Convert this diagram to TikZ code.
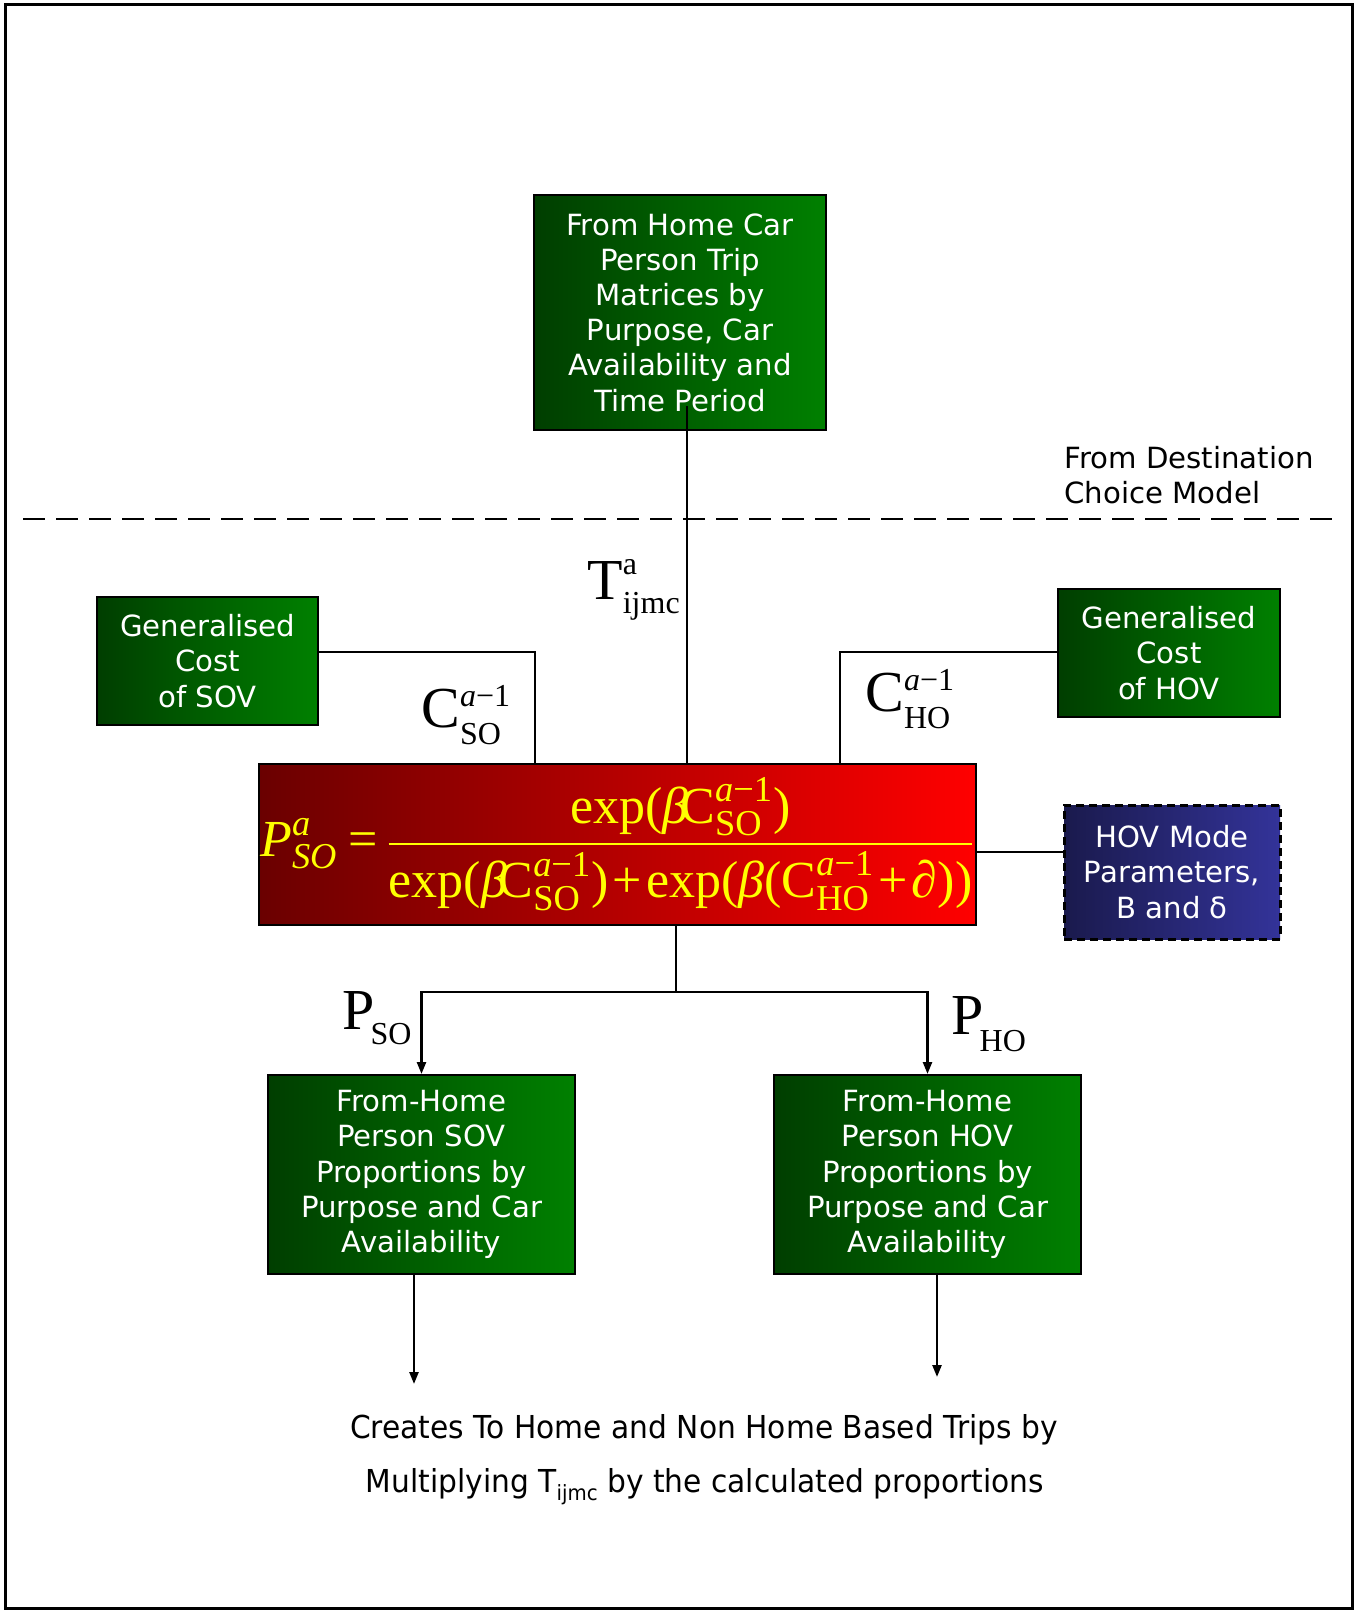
\documentclass[tikz,border=0pt]{standalone}
\usepackage{fontspec}
\usepackage{amsmath}
\usetikzlibrary{arrows.meta,calc}
\newfontfamily\verd{DejaVu Sans}
\newfontfamily\verdc[FakeStretch=0.94]{DejaVu Sans}
\newfontfamily\tnr{Liberation Serif}
\newcommand\rT[1]{\text{\tnr\upshape #1}}
\newcommand\iT[1]{\text{\tnr\itshape #1}}
\newcommand\opsp{\mskip1.5mu}
% label with superscript and subscript: base, sup, sub, raise, lower
\newcommand\supsub[5]{#1\rlap{\raisebox{#4}{\fontsize{16}{16}\selectfont #2}}\raisebox{-#5}{\fontsize{16}{16}\selectfont #3}}
\definecolor{gL}{RGB}{0,62,0}
\definecolor{gR}{RGB}{0,128,0}
\definecolor{rL}{RGB}{106,0,0}
\definecolor{rR}{RGB}{255,0,0}
\definecolor{bL}{RGB}{26,26,77}
\definecolor{bR}{RGB}{51,51,153}
\definecolor{fy}{RGB}{255,255,0}
\tikzset{
  box/.style={draw=black, line width=1pt, left color=gL, right color=gR, text=white, align=center, inner sep=0pt, font=\verd\fontsize{14.6}{17.6}\selectfont},
  redbox/.style={box, left color=rL, right color=rR, text=fy},
  bluebox/.style={box, left color=bL, right color=bR, dash pattern=on 4pt off 2.5pt, line width=1.5pt},
  conn/.style={line width=1.2pt},
  arr/.style={conn, -{Triangle[length=6pt,width=4.5pt]}},
  lbl/.style={font=\tnr\fontsize{29}{30}\selectfont, inner sep=0pt},
  plain/.style={font=\verd\fontsize{14.6}{17.6}\selectfont, inner sep=0pt},
  bottomtxt/.style={font=\verdc\fontsize{15.8}{18}\selectfont, inner sep=0pt}
}
\begin{document}
\begin{tikzpicture}[x=0.5pt,y=-0.5pt]
\useasboundingbox (0,0) rectangle (1354,1611);
\draw[line width=1.5pt] (5,5) rectangle (1352,1608);

% dashed separator
\draw[line width=1.3pt, dash pattern=on 11pt off 5.5pt] (23,519) -- (1341,519);
\node[plain, align=left, anchor=north west] (dest) at (1064,446) {From Destination\\Choice Model};

% boxes
\node[box, minimum width=146pt, minimum height=117.5pt] (top) at (680,312.5)
  {From Home Car\\Person Trip\\Matrices by\\Purpose, Car\\Availability and\\Time Period};
\node[box, minimum width=110.5pt, minimum height=64pt] (gcs) at (207.5,661)
  {Generalised\\Cost\\of SOV};
\node[box, minimum width=111pt, minimum height=64pt] (gch) at (1169,653)
  {Generalised\\Cost\\of HOV};
\node[redbox, minimum width=358.5pt, minimum height=80.5pt, font=\tnr\fontsize{26}{28}\selectfont] (red) at (617.5,844.5)
  {$\displaystyle \iT{P}^{\iT{a}}_{\iT{SO}}\mskip4mu\rT{=}\mskip3mu
   \frac{\rT{exp(}\iT{β}\mkern-3mu\rT{C}^{\iT{a}\rT{−1}}_{\rT{SO}}\rT{)}}
        {\rT{exp(}\iT{β}\mkern-3mu\rT{C}^{\iT{a}\rT{−1}}_{\rT{SO}}\rT{)}\opsp\rT{+}\opsp\rT{exp(}\iT{β}\rT{(C}^{\iT{a}\rT{−1}}_{\rT{HO}}\opsp\rT{+}\opsp\iT{∂}\rT{))}}$};
\node[bluebox, minimum width=108pt, minimum height=67pt] (par) at (1172,872)
  {HOV Mode\\Parameters,\\B and δ};
\node[box, minimum width=153.5pt, minimum height=99.5pt] (sovp) at (421.5,1174.5)
  {From-Home\\Person SOV\\Proportions by\\Purpose and Car\\Availability};
\node[box, minimum width=153.5pt, minimum height=99.5pt] (hovp) at (927.5,1174.5)
  {From-Home\\Person HOV\\Proportions by\\Purpose and Car\\Availability};

% connectors
\coordinate (tstart) at (687,406);
\draw[conn] (tstart) -- (tstart |- red.north);
\coordinate (js) at (535,652);
\draw[conn] (gcs.east |- js) -- (js) -- (js |- red.north);
\coordinate (jh) at (840,652);
\draw[conn] (gch.west |- jh) -- (jh) -- (jh |- red.north);
\coordinate (jp) at (1020,852);
\draw[conn] (red.east |- jp) -- (par.west |- jp);
\coordinate (jb) at (676,992);
\draw[conn] (jb |- red.south) -- (jb);
\draw[arr] (jb) -| (sovp.north);
\draw[arr] (jb) -| (hovp.north);
\coordinate (os) at (414,1384);
\draw[arr] (os |- sovp.south) -- (os);
\coordinate (oh) at (937,1377);
\draw[arr] (oh |- hovp.south) -- (oh);

% labels
\node[lbl, anchor=base west] (tl) at (587,599) {\supsub{T}{a}{ijmc}{12.5pt}{7pt}};
\node[lbl, anchor=base west] (csl) at (421,727) {\supsub{C}{\textit{a}−1}{SO}{10.5pt}{8.5pt}};
\node[lbl, anchor=base west] (chl) at (865,711) {\supsub{C}{\textit{a}−1}{HO}{10.5pt}{8.5pt}};
\node[lbl, anchor=base west] (psl) at (342,1029) {P\kern-2pt\raisebox{-7.5pt}{\fontsize{16}{16}\selectfont SO}};
\node[lbl, anchor=base west] (phl) at (951,1034) {P\kern-2pt\raisebox{-8.5pt}{\fontsize{16}{16}\selectfont HO}};

% bottom text
\node[bottomtxt, anchor=base] (bt1) at (704,1438) {Creates To Home and Non Home Based Trips by};
\node[bottomtxt, anchor=base] (bt2) at (705,1492) {Multiplying T\raisebox{-4pt}{\fontsize{10.5}{11}\selectfont ijmc} by the calculated proportions};
\end{tikzpicture}
\end{document}
